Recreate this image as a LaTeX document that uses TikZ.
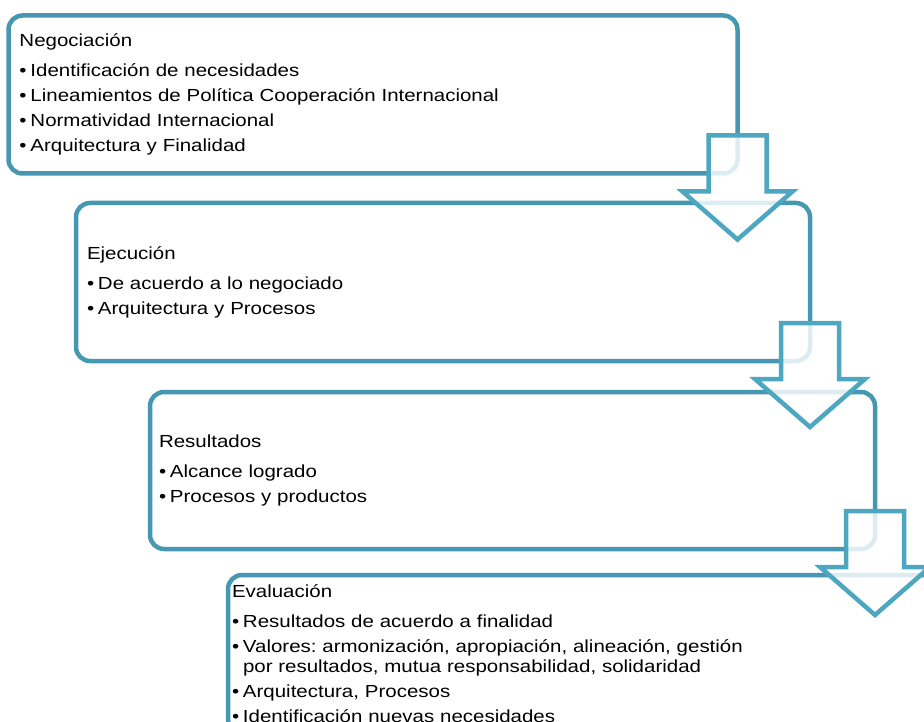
\documentclass[tikz,border=0pt]{standalone}
\usepackage{fontspec}
\setmainfont[FakeStretch=1.17]{Liberation Sans}
\usetikzlibrary{calc}

\definecolor{boxline}{HTML}{4698B2}
\definecolor{arrline}{HTML}{4DA7C1}
\newcommand{\itm}{\par\hangindent=11pt\hangafter=1\makebox[11pt][l]{\textbullet}}
\frenchspacing

\begin{document}
\begin{tikzpicture}[x=1pt,y=-1pt]
  \tikzstyle{stage}=[draw=boxline,line width=4.5pt,rounded corners=14pt,fill=white,
    anchor=north west,outer sep=0pt,align=left,font=\fontsize{17.5}{20}\selectfont]
  \tikzstyle{down}=[draw=arrline,line width=4.5pt,fill=white,fill opacity=0.82]

  \path[use as bounding box,clip] (0,0) rectangle (924,722);

  \node[stage,inner xsep=11pt,text width=707pt,minimum width=729pt,minimum height=158pt] (neg) at (8.5,15.5)
    {\setlength{\parskip}{5pt}Negociación\par\vspace{5pt}%
     \itm Identificación de necesidades
     \itm Lineamientos de Política Cooperación Internacional
     \itm Normatividad Internacional
     \itm Arquitectura y Finalidad};
  \node[stage,inner xsep=11pt,text width=712pt,minimum width=734pt,minimum height=158pt] (eje) at (76,203)
    {\setlength{\parskip}{5pt}Ejecución\par\vspace{5pt}%
     \itm De acuerdo a lo negociado
     \itm Arquitectura y Procesos};
  \node[stage,inner xsep=9pt,text width=707pt,minimum width=725pt,minimum height=157pt] (res) at (150,392)
    {\setlength{\parskip}{5pt}Resultados\par\vspace{5pt}%
     \itm Alcance logrado
     \itm Procesos y productos};
  \node[stage,inner xsep=4pt,text width=722pt,minimum width=730pt,minimum height=158pt] (eva) at (228,575)
    {\setlength{\parskip}{5pt}Evaluación\par\vspace{5pt}%
     \itm Resultados de acuerdo a finalidad
     \itm Valores: armonización, apropiación, alineación, gestión\newline
          por resultados, mutua responsabilidad, solidaridad
     \itm Arquitectura, Procesos
     \itm Identificación nuevas necesidades};

  % block arrows hanging from the lower right corners
  \foreach \b in {neg,eje,res}
    \draw[down] ($(\b.south east)+(-29,-38)$) -- ++(58,0) -- ++(0,56) -- ++(26,0)
      -- ($(\b.south east)+(0,66)$) -- ++(-55,-48) -- ++(26,0) -- cycle;
\end{tikzpicture}
\end{document}
